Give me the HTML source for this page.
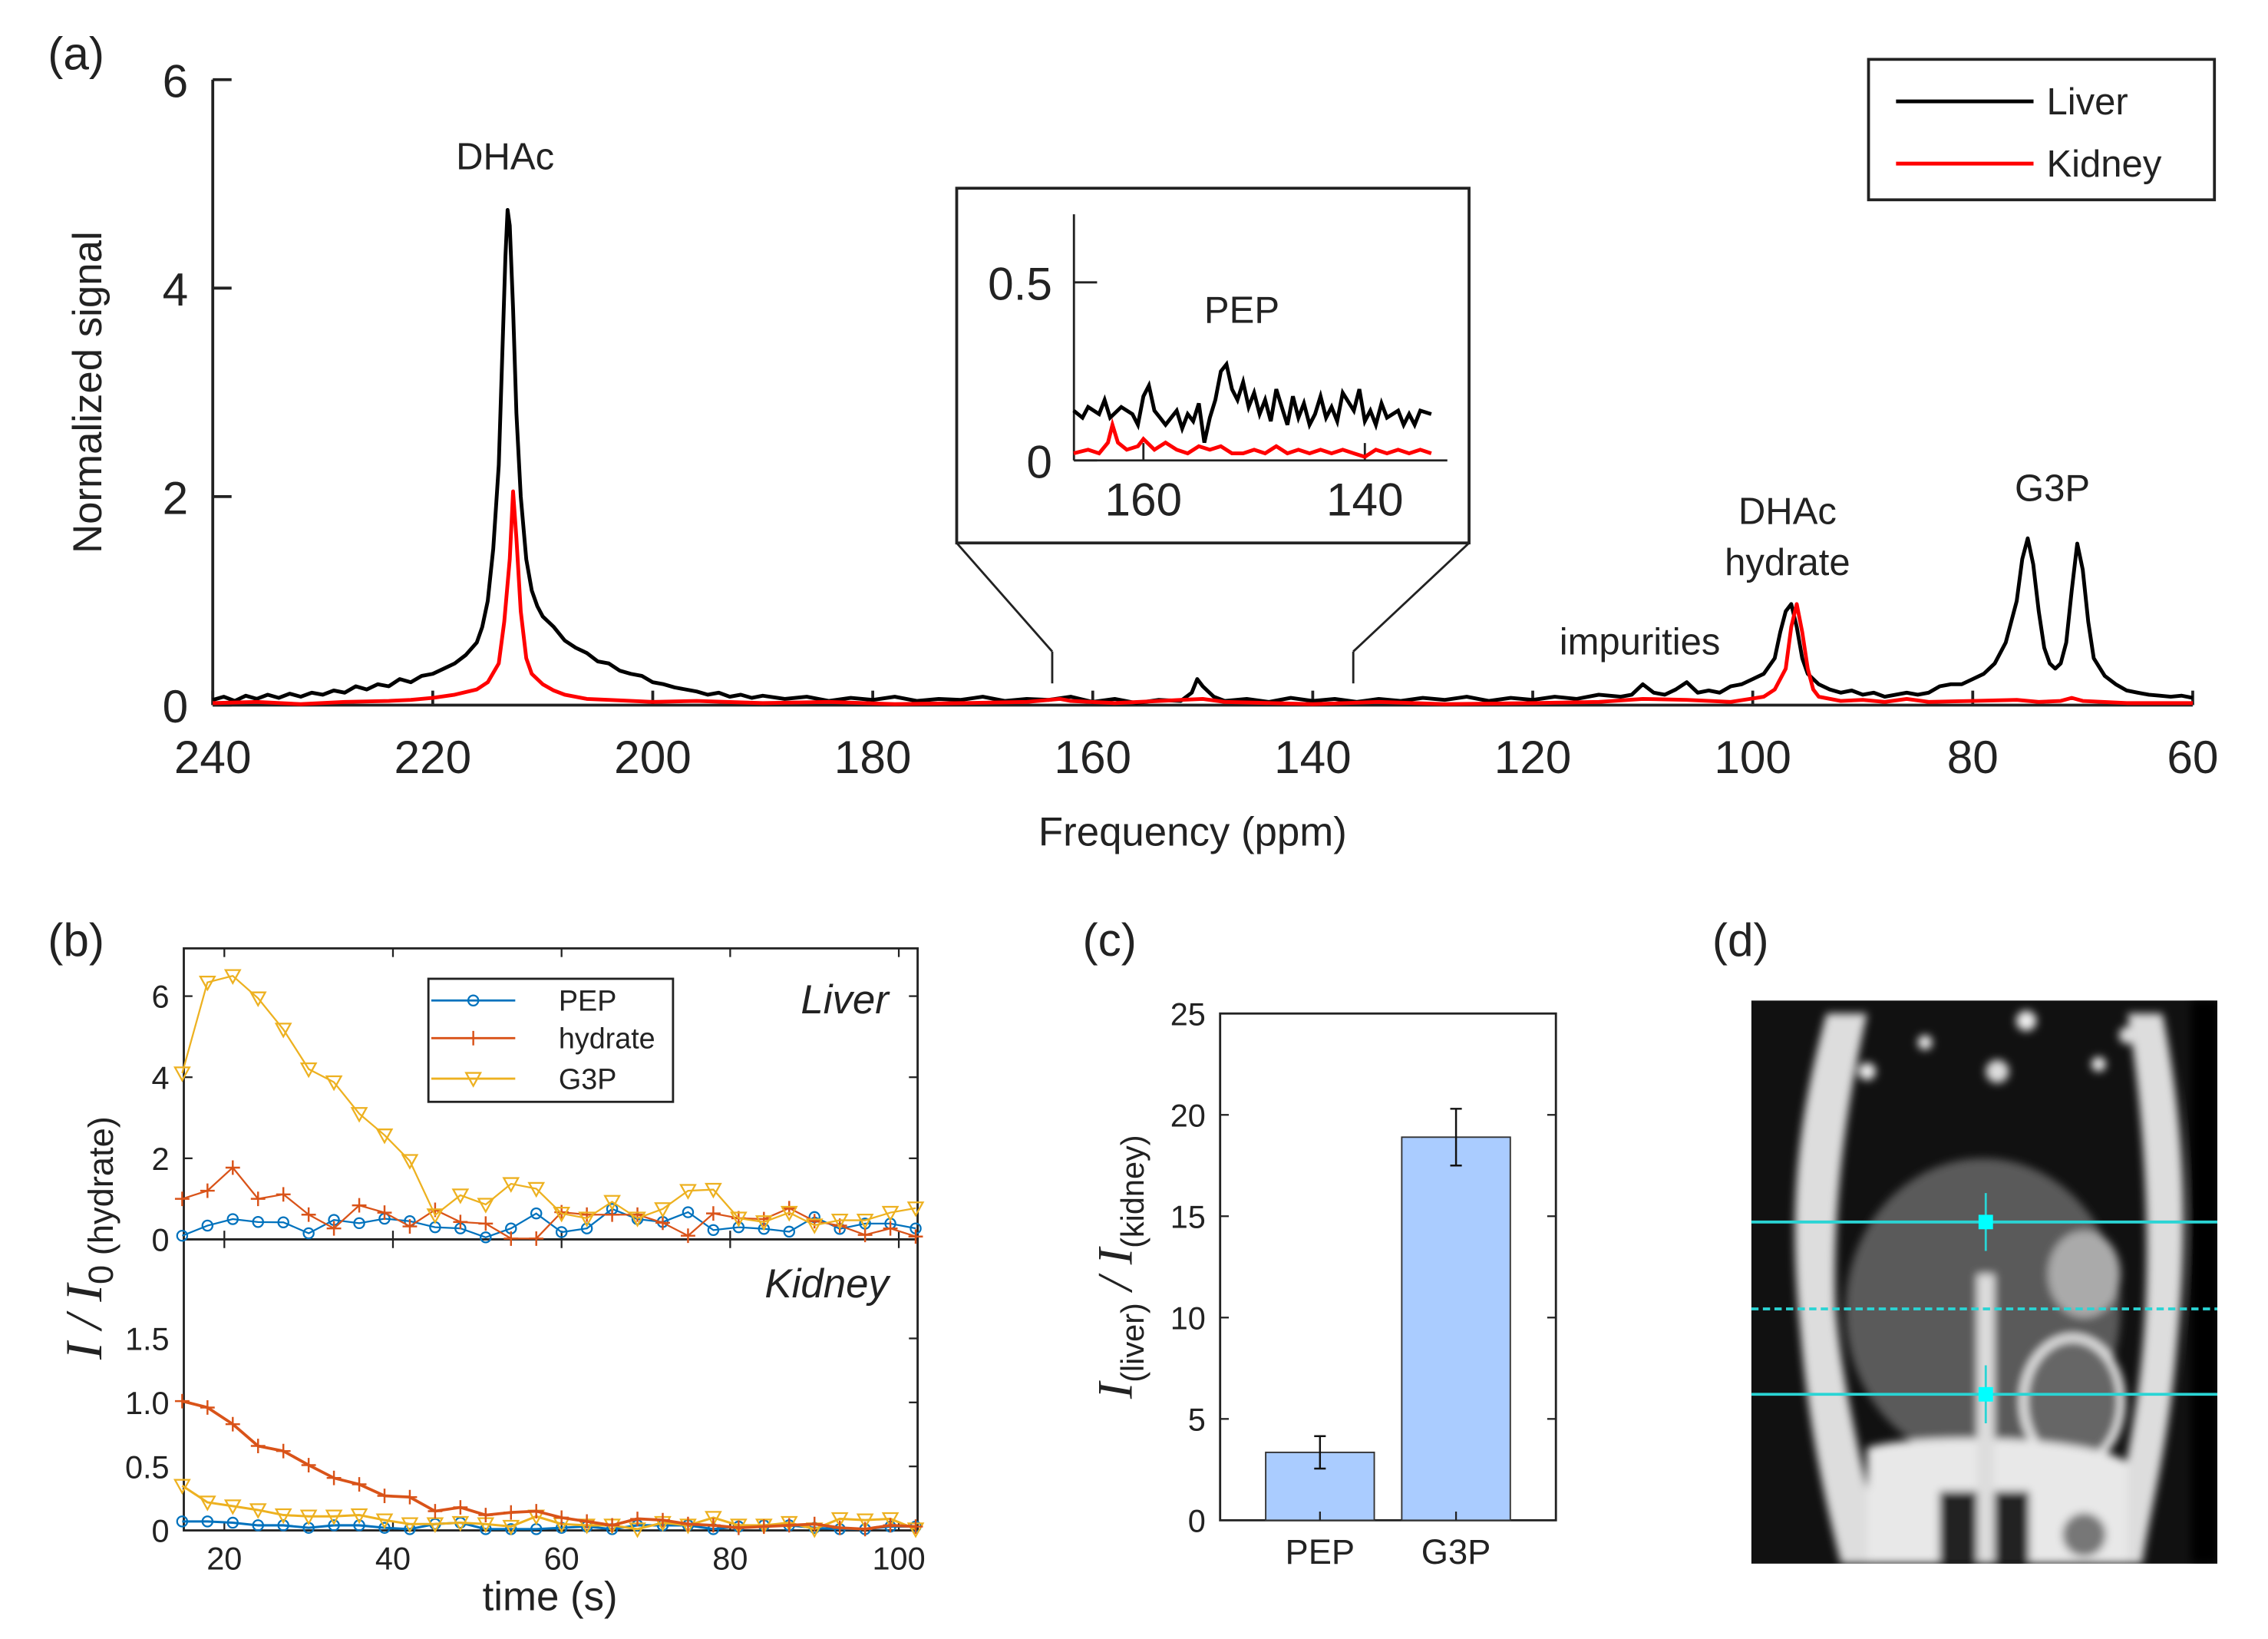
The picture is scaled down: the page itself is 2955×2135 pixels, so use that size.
<!DOCTYPE html>
<html><head><meta charset="utf-8"><style>
html,body{margin:0;padding:0;background:#fff}
svg{display:block}
text{font-family:"Liberation Sans",sans-serif;fill:#222}
.ser{font-family:"Liberation Serif",serif;font-style:italic}
</style></head><body>
<svg id="fig" xmlns="http://www.w3.org/2000/svg" width="2955" height="2135" viewBox="0 0 1567 1132" preserveAspectRatio="none">
<defs>
<filter id="bl" x="-10%" y="-10%" width="120%" height="120%"><feGaussianBlur stdDeviation="3"/></filter>
<clipPath id="mriclip"><rect x="1210" y="691" width="322" height="389"/></clipPath>
</defs>
<g id="pa"></g>
<g id="pb"></g>
<g id="pc"></g>
<g id="pd">
 <text x="1183" y="660" font-size="32">(d)</text>
 <g clip-path="url(#mriclip)">
  <rect x="1210" y="691" width="322" height="389" fill="#111"/>
  <g filter="url(#bl)">
   <path d="M1262,700 C1240,780 1236,840 1244,920 C1250,990 1262,1040 1272,1080 L1300,1080 C1290,1020 1272,960 1268,900 C1266,830 1276,760 1290,700 Z" fill="#ddd"/>
   <path d="M1494,700 C1510,780 1512,850 1504,930 C1498,1000 1486,1040 1480,1080 L1456,1080 C1464,1030 1478,980 1482,910 C1486,840 1480,760 1470,700 Z" fill="#ddd"/>
   <ellipse cx="1370" cy="905" rx="95" ry="105" fill="#5a5a5a"/>
   <ellipse cx="1440" cy="880" rx="25" ry="30" fill="#aaa"/>
   <ellipse cx="1432" cy="968" rx="34" ry="44" fill="#666" stroke="#eee" stroke-width="5"/>
   <path d="M1290,1000 C1320,990 1440,990 1470,1010 L1470,1080 L1290,1080 Z" fill="#e8e8e8"/>
   <rect x="1340" y="1030" width="28" height="50" fill="#222"/>
   <rect x="1378" y="1030" width="24" height="50" fill="#222"/>
   <rect x="1366" y="880" width="12" height="200" fill="#ddd"/>
   <circle cx="1290" cy="740" r="6" fill="#eee"/><circle cx="1330" cy="720" r="5" fill="#eee"/>
   <circle cx="1380" cy="740" r="8" fill="#ddd"/><circle cx="1450" cy="735" r="5" fill="#eee"/>
   <circle cx="1470" cy="715" r="6" fill="#ddd"/><circle cx="1400" cy="705" r="7" fill="#eee"/>
   <circle cx="1440" cy="1060" r="15" fill="#777"/>
   <rect x="1514" y="691" width="18" height="389" fill="#000"/>
  </g>
  <line x1="1210" y1="844" x2="1532" y2="844" stroke="#2ad4d4" stroke-width="2"/>
  <line x1="1210" y1="904" x2="1532" y2="904" stroke="#2ad4d4" stroke-width="2" stroke-dasharray="5,3"/>
  <line x1="1210" y1="963" x2="1532" y2="963" stroke="#2ad4d4" stroke-width="2"/>
  <line x1="1372" y1="824" x2="1372" y2="864" stroke="#2ad4d4" stroke-width="1.5"/>
  <line x1="1372" y1="943" x2="1372" y2="983" stroke="#2ad4d4" stroke-width="1.5"/>
  <rect x="1367" y="839" width="10" height="10" fill="#00ffff"/>
  <rect x="1367" y="958" width="10" height="10" fill="#00ffff"/>
 </g>
</g>
</svg>
<script>
// ---------- Panel (a) data ----------
const liverSpec = [[240,.05],[239,.08],[238,.04],[237,.09],[236,.06],[235,.1],[234,.07],[233,.11],[232,.08],[231,.12],[230,.1],[229,.14],[228,.12],[227,.18],[226,.15],[225,.2],[224,.18],[223,.25],[222,.22],[221,.28],[220,.3],[219,.35],[218,.4],[217,.48],[216,.6],[215.5,.75],[215,1.0],[214.5,1.5],[214,2.3],[213.7,3.3],[213.4,4.3],[213.2,4.75],[213,4.6],[212.7,3.8],[212.4,2.8],[212,2.0],[211.5,1.4],[211,1.1],[210.5,.95],[210,.85],[209,.75],[208,.62],[207,.55],[206,.5],[205,.42],[204,.4],[203,.33],[202,.3],[201,.28],[200,.22],[199,.2],[198,.17],[197,.15],[196,.13],[195,.1],[194,.12],[193,.08],[192,.1],[191,.07],[190,.09],[188,.06],[186,.08],[184,.04],[182,.07],[180,.05],[178,.08],[176,.04],[174,.06],[172,.05],[170,.08],[168,.04],[166,.06],[164,.05],[162,.08],[160,.03],[158,.06],[156,.02],[154,.05],[152,.04],[151,.12],[150.5,.25],[150,.18],[149,.08],[148,.04],[146,.06],[144,.03],[142,.07],[140,.04],[138,.06],[136,.03],[134,.06],[132,.04],[130,.07],[128,.05],[126,.08],[124,.04],[122,.07],[120,.05],[118,.08],[116,.06],[114,.1],[112,.08],[111,.1],[110,.2],[109,.12],[108,.1],[107,.15],[106,.22],[105,.12],[104,.14],[103,.12],[102,.18],[101,.2],[100,.25],[99,.3],[98,.45],[97.5,.7],[97,.9],[96.5,.97],[96,.75],[95.5,.45],[95,.3],[94,.2],[93,.15],[92,.12],[91,.14],[90,.1],[89,.12],[88,.08],[87,.1],[86,.12],[85,.1],[84,.12],[83,.18],[82,.2],[81,.2],[80,.25],[79,.3],[78,.4],[77,.6],[76,1.0],[75.5,1.4],[75,1.6],[74.5,1.35],[74,.9],[73.5,.55],[73,.4],[72.5,.35],[72,.4],[71.5,.6],[71,1.1],[70.5,1.55],[70,1.3],[69.5,.8],[69,.45],[68,.28],[67,.2],[66,.14],[65,.12],[64,.1],[63,.09],[62,.08],[61,.09],[60,.07]];
const kidneySpec = [[240,.02],[236,.03],[232,.01],[228,.03],[224,.04],[222,.05],[220,.07],[218,.1],[216,.15],[215,.22],[214,.4],[213.5,.8],[213,1.4],[212.7,2.05],[212.4,1.6],[212,.9],[211.5,.45],[211,.3],[210,.2],[209,.14],[208,.1],[206,.06],[204,.05],[200,.03],[196,.04],[190,.02],[184,.03],[178,.01],[172,.02],[166,.03],[163,.06],[162,.04],[158,.02],[152,.05],[150,.06],[148,.03],[140,.01],[134,.03],[128,.01],[120,.02],[114,.03],[110,.06],[106,.05],[102,.03],[99,.08],[98,.15],[97,.35],[96.5,.75],[96,.97],[95.5,.7],[95,.35],[94.5,.15],[94,.08],[92,.04],[90,.05],[88,.03],[86,.06],[84,.03],[80,.04],[76,.05],[74,.03],[72,.04],[71,.07],[70,.04],[66,.02],[60,.02]];
const insetLiver = [[166.3,.14],[165.5,.12],[165,.15],[164,.13],[163.5,.17],[163,.12],[162,.15],[161,.13],[160.5,.1],[160,.18],[159.5,.21],[159,.14],[158.5,.12],[158,.1],[157,.14],[156.5,.09],[156,.13],[155.5,.11],[155,.16],[154.5,.05],[154,.12],[153.5,.17],[153,.25],[152.5,.27],[152,.2],[151.5,.17],[151,.22],[150.5,.15],[150,.19],[149.5,.13],[149,.17],[148.5,.11],[148,.2],[147.5,.15],[147,.1],[146.5,.18],[146,.12],[145.5,.16],[145,.1],[144.5,.13],[144,.18],[143.5,.12],[143,.15],[142.5,.11],[142,.19],[141,.14],[140.5,.2],[140,.11],[139.5,.14],[139,.1],[138.5,.16],[138,.12],[137,.14],[136.5,.1],[136,.13],[135.5,.1],[135,.14],[134,.13]];
const insetKidney = [[166.3,.02],[165,.03],[164,.02],[163.2,.05],[162.8,.1],[162.3,.05],[161.5,.03],[160.5,.04],[160,.06],[159,.03],[158,.05],[157,.03],[156,.02],[155,.04],[154,.03],[153,.04],[152,.02],[151,.02],[150,.03],[149,.02],[148,.04],[147,.02],[146,.03],[145,.02],[144,.03],[143,.02],[142,.03],[141,.02],[140,.01],[139,.03],[138,.02],[137,.03],[136,.02],[135,.03],[134,.02]];
const specXTicks = [240,220,200,180,160,140,120,100,80,60];
const specYTicks = [0,2,4,6];

// ---------- Panel (b) data ----------
const times = [15,18,21,24,27,30,33,36,39,42,45,48,51,54,57,60,63,66,69,72,75,78,81,84,87,90,93,96,99,102];
const liverG3P = [4.1,6.34,6.5,5.95,5.18,4.2,3.88,3.1,2.57,1.94,0.6,1.09,0.86,1.37,1.25,0.64,0.52,0.93,0.52,0.75,1.2,1.23,0.52,0.43,0.66,0.35,0.47,0.47,0.66,0.77];
const liverHyd = [1.0,1.2,1.77,1.0,1.11,0.61,0.27,0.84,0.66,0.32,0.73,0.43,0.39,0.02,0.02,0.67,0.61,0.61,0.61,0.41,0.09,0.64,0.52,0.5,0.77,0.45,0.34,0.11,0.27,0.07];
const liverPEP = [0.09,0.34,0.5,0.43,0.42,0.15,0.48,0.4,0.51,0.45,0.3,0.27,0.05,0.27,0.64,0.18,0.27,0.75,0.5,0.43,0.67,0.23,0.3,0.26,0.19,0.55,0.26,0.39,0.39,0.27];
const kidHyd = [1.01,0.96,0.83,0.66,0.62,0.51,0.41,0.36,0.27,0.26,0.15,0.18,0.12,0.14,0.15,0.1,0.07,0.04,0.09,0.08,0.05,0.04,0.02,0.03,0.04,0.05,0.02,0.01,0.04,0.03];
const kidG3P = [0.35,0.22,0.19,0.16,0.12,0.11,0.11,0.12,0.08,0.05,0.05,0.06,0.05,0.03,0.11,0.05,0.04,0.04,0.01,0.06,0.04,0.1,0.04,0.04,0.06,0.01,0.09,0.08,0.09,0.01];
const kidPEP = [0.07,0.07,0.06,0.04,0.04,0.02,0.04,0.04,0.02,0.01,0.05,0.06,0.01,0.01,0.01,0.02,0.03,0.01,0.04,0.04,0.04,0.01,0.03,0.04,0.04,0.02,0.01,0.01,0.03,0.03];
const timeTicks = [20,40,60,80,100];
const liverYTicks = [0,2,4,6];
const kidYTicks = [0,0.5,1.0,1.5];

// ---------- Panel (c) data ----------
const ratioCats = ["PEP","G3P"];
const ratioVals = [3.35,18.9];
const ratioErr = [0.8,1.4];
const ratioYTicks = [0,5,10,15,20,25];

const NS="http://www.w3.org/2000/svg";
function mk(parent,tag,attrs,txt){const e=document.createElementNS(NS,tag);for(const k in attrs)e.setAttribute(k,attrs[k]);if(txt!==undefined)e.textContent=txt;parent.appendChild(e);return e;}

// ===== Panel A =====
const pa=document.getElementById('pa');
const ax=p=>147+(240-p)*(1368/180), ay=v=>487-v*72;
let t=mk(pa,'text',{x:33,y:48,'font-size':32},'(a)');


mk(pa,'line',{x1:147,y1:55,x2:147,y2:487,stroke:'#222','stroke-width':2});
mk(pa,'line',{x1:147,y1:487,x2:1515,y2:487,stroke:'#222','stroke-width':2});
specXTicks.forEach(v=>{
 mk(pa,'line',{x1:ax(v),y1:487,x2:ax(v),y2:477,stroke:'#222','stroke-width':2});
 const e=mk(pa,'text',{x:ax(v),y:534,'font-size':32,'text-anchor':'middle'},String(v));
 
 
});
specYTicks.forEach(v=>{
 mk(pa,'line',{x1:147,y1:ay(v),x2:160,y2:ay(v),stroke:'#222','stroke-width':2});
 const e=mk(pa,'text',{x:130,y:ay(v)+12,'font-size':32,'text-anchor':'end'},String(v));
 
 
});
function specPath(pts,xf,yf){return pts.map((p,i)=>(i?'L':'M')+xf(p[0]).toFixed(1)+','+yf(p[1]).toFixed(1)).join('');}
let l=mk(pa,'path',{d:specPath(liverSpec,ax,ay),fill:'none',stroke:'#000','stroke-width':2.6,'stroke-linejoin':'round'});


l=mk(pa,'path',{d:specPath(kidneySpec,ax,ay),fill:'none',stroke:'#f00','stroke-width':2.6,'stroke-linejoin':'round'});


[['DHAc',349,117],['DHAc',1235,362],['hydrate',1235,397],['impurities',1133,452],['G3P',1418,346]].forEach(a=>{
 const e=mk(pa,'text',{x:a[1],y:a[2],'font-size':26,'text-anchor':'middle'},a[0]);
 
 
});
t=mk(pa,'text',{x:824,y:584,'font-size':28,'text-anchor':'middle'},'Frequency (ppm)');


t=mk(pa,'text',{x:0,y:0,'font-size':28,'text-anchor':'middle',transform:'translate(70,271) rotate(-90)'},'Normalized signal');


mk(pa,'line',{x1:661,y1:375,x2:727,y2:450,stroke:'#222','stroke-width':1.5});
mk(pa,'line',{x1:1015,y1:375,x2:935,y2:450,stroke:'#222','stroke-width':1.5});
mk(pa,'line',{x1:727,y1:450,x2:727,y2:472,stroke:'#222','stroke-width':1.5});
mk(pa,'line',{x1:935,y1:450,x2:935,y2:472,stroke:'#222','stroke-width':1.5});
const ins=mk(pa,'g',{});


mk(ins,'rect',{x:661,y:130,width:354,height:245,fill:'#fff',stroke:'#222','stroke-width':2});
const ix=p=>790+(160-p)*(153/20), iy=v=>318-v*246;
mk(ins,'line',{x1:742,y1:148,x2:742,y2:318,stroke:'#222','stroke-width':1.5});
mk(ins,'line',{x1:742,y1:318,x2:1000,y2:318,stroke:'#222','stroke-width':1.5});
[0,0.5].forEach(v=>{mk(ins,'line',{x1:742,y1:iy(v),x2:758,y2:iy(v),stroke:'#222','stroke-width':1.5});
 mk(ins,'text',{x:727,y:iy(v)+12,'font-size':32,'text-anchor':'end'},String(v));});
[160,140].forEach(v=>{mk(ins,'line',{x1:ix(v),y1:318,x2:ix(v),y2:306,stroke:'#222','stroke-width':1.5});
 mk(ins,'text',{x:ix(v),y:356,'font-size':32,'text-anchor':'middle'},String(v));});
mk(ins,'path',{d:specPath(insetLiver,ix,iy),fill:'none',stroke:'#000','stroke-width':2.6});
mk(ins,'path',{d:specPath(insetKidney,ix,iy),fill:'none',stroke:'#f00','stroke-width':2.6});
mk(ins,'text',{x:858,y:223,'font-size':26,'text-anchor':'middle'},'PEP');
const lg=mk(pa,'g',{});


mk(lg,'rect',{x:1291,y:41,width:239,height:97,fill:'#fff',stroke:'#222','stroke-width':2});
mk(lg,'line',{x1:1310,y1:70,x2:1405,y2:70,stroke:'#000','stroke-width':2.6});
mk(lg,'text',{x:1414,y:79,'font-size':26},'Liver');
mk(lg,'line',{x1:1310,y1:113,x2:1405,y2:113,stroke:'#f00','stroke-width':2.6});
mk(lg,'text',{x:1414,y:122,'font-size':26},'Kidney');

// ===== Panel B =====
const pb=document.getElementById('pb');
const bx=s=>155+(s-20)*(466/80);
const byL=v=>856-v*28, byK=v=>1057-v*88.4;
t=mk(pb,'text',{x:33,y:660,'font-size':32},'(b)');


mk(pb,'rect',{x:127,y:655,width:507,height:402,fill:'none',stroke:'#222','stroke-width':1.5});
mk(pb,'line',{x1:127,y1:856,x2:634,y2:856,stroke:'#222','stroke-width':1.5});
timeTicks.forEach(v=>{
 [[856,850],[856,862],[1057,1051],[655,661]].forEach(q=>mk(pb,'line',{x1:bx(v),y1:q[0],x2:bx(v),y2:q[1],stroke:'#222','stroke-width':1.2}));
 const e=mk(pb,'text',{x:bx(v),y:1084,'font-size':22,'text-anchor':'middle'},String(v));
 
 
});
liverYTicks.forEach(v=>{
 mk(pb,'line',{x1:127,y1:byL(v),x2:133,y2:byL(v),stroke:'#222','stroke-width':1.2});
 mk(pb,'line',{x1:628,y1:byL(v),x2:634,y2:byL(v),stroke:'#222','stroke-width':1.2});
 const e=mk(pb,'text',{x:117,y:byL(v)+8,'font-size':22,'text-anchor':'end'},String(v));
 
 
});
kidYTicks.forEach(v=>{
 mk(pb,'line',{x1:628,y1:byK(v),x2:634,y2:byK(v),stroke:'#222','stroke-width':1.2});
 const e=mk(pb,'text',{x:117,y:byK(v)+8,'font-size':22,'text-anchor':'end'},v===0?'0':v.toFixed(1));
 
 
});
const cols={PEP:'#0072bd',hyd:'#d95319',G3P:'#edb120'};
function marker(g,type,x,y,c){
 if(type==='o')mk(g,'circle',{cx:x,cy:y,r:3.5,fill:'none',stroke:c,'stroke-width':1.2});
 else if(type==='+'){mk(g,'path',{d:`M${x-5},${y}H${x+5}M${x},${y-5}V${y+5}`,stroke:c,'stroke-width':1.3});}
 else mk(g,'path',{d:`M${x-5},${y-4}H${x+5}L${x},${y+5}Z`,fill:'none',stroke:c,'stroke-width':1.2});
}
function series(name,vals,yf,c,type,w){
 const g=mk(pb,'g',{});
 
 
 mk(g,'path',{d:vals.map((v,i)=>(i?'L':'M')+bx(times[i]).toFixed(1)+','+yf(v).toFixed(1)).join(''),fill:'none',stroke:c,'stroke-width':w});
 vals.forEach((v,i)=>marker(g,type,bx(times[i]),yf(v),c));
}
series('liver-pep-series',liverPEP,byL,cols.PEP,'o',1.2);
series('liver-hydrate-series',liverHyd,byL,cols.hyd,'+',1.2);
series('liver-g3p-series',liverG3P,byL,cols.G3P,'v',1.2);
series('kidney-pep-series',kidPEP,byK,cols.PEP,'o',1.6);
series('kidney-g3p-series',kidG3P,byK,cols.G3P,'v',1.6);
series('kidney-hydrate-series',kidHyd,byK,cols.hyd,'+',2);
const lb=mk(pb,'g',{});


mk(lb,'rect',{x:296,y:676,width:169,height:85,fill:'#fff',stroke:'#222','stroke-width':1.5});
[['PEP',cols.PEP,'o',691],['hydrate',cols.hyd,'+',717],['G3P',cols.G3P,'v',745]].forEach(a=>{
 mk(lb,'line',{x1:298,y1:a[3],x2:356,y2:a[3],stroke:a[1],'stroke-width':1.5});
 marker(lb,a[2],327,a[3],a[1]);
 mk(lb,'text',{x:386,y:a[3]+7,'font-size':20},a[0]);
});
t=mk(pb,'text',{x:614,y:700,'font-size':28,'font-style':'italic','text-anchor':'end'},'Liver');


t=mk(pb,'text',{x:614,y:896,'font-size':28,'font-style':'italic','text-anchor':'end'},'Kidney');


t=mk(pb,'text',{x:380,y:1112,'font-size':28,'text-anchor':'middle'},'time (s)');


t=mk(pb,'text',{x:0,y:0,'text-anchor':'middle',transform:'translate(70,855) rotate(-90)'});


mk(t,'tspan',{class:'ser','font-size':36},'I / I');
mk(t,'tspan',{'font-size':24,dy:8},'0');
mk(t,'tspan',{'font-size':24,dy:0},' (hydrate)');

// ===== Panel C =====
const pc=document.getElementById('pc');
const cy=v=>1050-v*14;
const cx0=[912,1006];
t=mk(pc,'text',{x:748,y:660,'font-size':32},'(c)');


mk(pc,'rect',{x:843,y:700,width:232,height:350,fill:'none',stroke:'#222','stroke-width':1.5});
ratioYTicks.forEach(v=>{
 mk(pc,'line',{x1:843,y1:cy(v),x2:849,y2:cy(v),stroke:'#222','stroke-width':1.2});
 mk(pc,'line',{x1:1069,y1:cy(v),x2:1075,y2:cy(v),stroke:'#222','stroke-width':1.2});
 const e=mk(pc,'text',{x:833,y:cy(v)+8,'font-size':22,'text-anchor':'end'},String(v));
 
 
});
ratioCats.forEach((c,i)=>{
 const b=mk(pc,'rect',{x:cx0[i]-37.5,y:cy(ratioVals[i]),width:75,height:ratioVals[i]*14,fill:'#aaccff',stroke:'#333','stroke-width':1});
 
 
 const lo=cy(ratioVals[i]-ratioErr[i]),hi=cy(ratioVals[i]+ratioErr[i]);
 const eb=mk(pc,'path',{d:`M${cx0[i]},${lo}V${hi}M${cx0[i]-4},${lo}H${cx0[i]+4}M${cx0[i]-4},${hi}H${cx0[i]+4}`,stroke:'#111','stroke-width':1.3,fill:'none'});
 
 
 mk(pc,'line',{x1:cx0[i],y1:1050,x2:cx0[i],y2:1044,stroke:'#222','stroke-width':1.2});
 const e=mk(pc,'text',{x:cx0[i],y:1080,'font-size':24,'text-anchor':'middle'},c);
 
 
});
t=mk(pc,'text',{x:0,y:0,'text-anchor':'middle',transform:'translate(782,875) rotate(-90)'});


mk(t,'tspan',{class:'ser','font-size':34},'I');
mk(t,'tspan',{'font-size':22,dy:8},'(liver)');
mk(t,'tspan',{class:'ser','font-size':34,dy:-8},' / I');
mk(t,'tspan',{'font-size':22,dy:8},'(kidney)');
</script>
</body></html>
